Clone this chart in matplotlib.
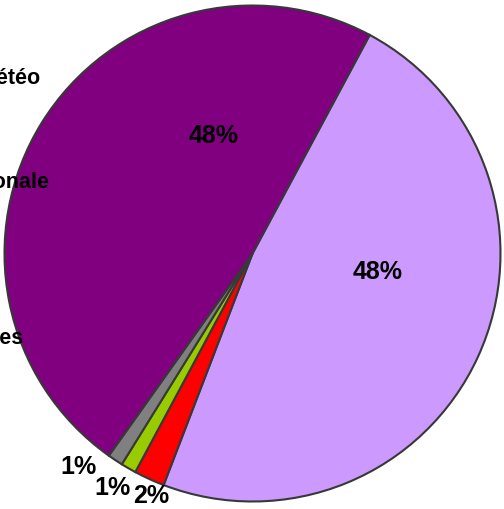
import numpy as np
import matplotlib
matplotlib.use("Agg")
import matplotlib.pyplot as plt

plt.rcParams["font.family"] = ["Liberation Sans", "DejaVu Sans"]

# slices in drawing order (clockwise from the upper right)
shares = [48, 2, 1, 1, 48]
pct_labels = ["48%", "2%", "1%", "1%", "48%"]
colors = ["#CC99FF", "#FF0000", "#99CC00", "#808080", "#800080"]

# legend entries, mostly cut off at the left edge of the picture
legend_names = ["Météo", "Nationale", "Autres"]

W, H = 504, 509
fig = plt.figure(figsize=(W / 100, H / 100), dpi=100)
cx, cy, r = 252.5, 253.5, 248.0
ax = fig.add_axes([(cx - r) / W, (H - cy - r) / H, 2 * r / W, 2 * r / H])

wedges, _ = ax.pie(
    shares,
    colors=colors,
    startangle=61.8,
    counterclock=False,
    wedgeprops=dict(edgecolor="#383838", linewidth=1.5),
)
ax.set_xlim(-1, 1)
ax.set_ylim(-1, 1)

# label placement: (angle shift from slice middle, distance from centre)
label_place = [(16.2, 0.51), (1.9, 1.06), (-0.9, 1.10), (-5.5, 1.11), (-40.0, 0.50)]
for w, txt, (shift, dist) in zip(wedges, pct_labels, label_place):
    mid = np.deg2rad((w.theta1 + w.theta2) / 2 + shift)
    ax.text(dist * np.cos(mid), dist * np.sin(mid), txt, ha="center", va="center",
            fontsize=18, fontweight="bold", color="black", clip_on=False)

legend_xy = [(41, 78), (50, 182), (24, 339)]
for name, (px, py) in zip(legend_names, legend_xy):
    fig.text(px / W, 1 - py / H, name, ha="right", va="center",
             fontsize=15.5, fontweight="bold", color="black")

fig.savefig("out.png", dpi=100)
